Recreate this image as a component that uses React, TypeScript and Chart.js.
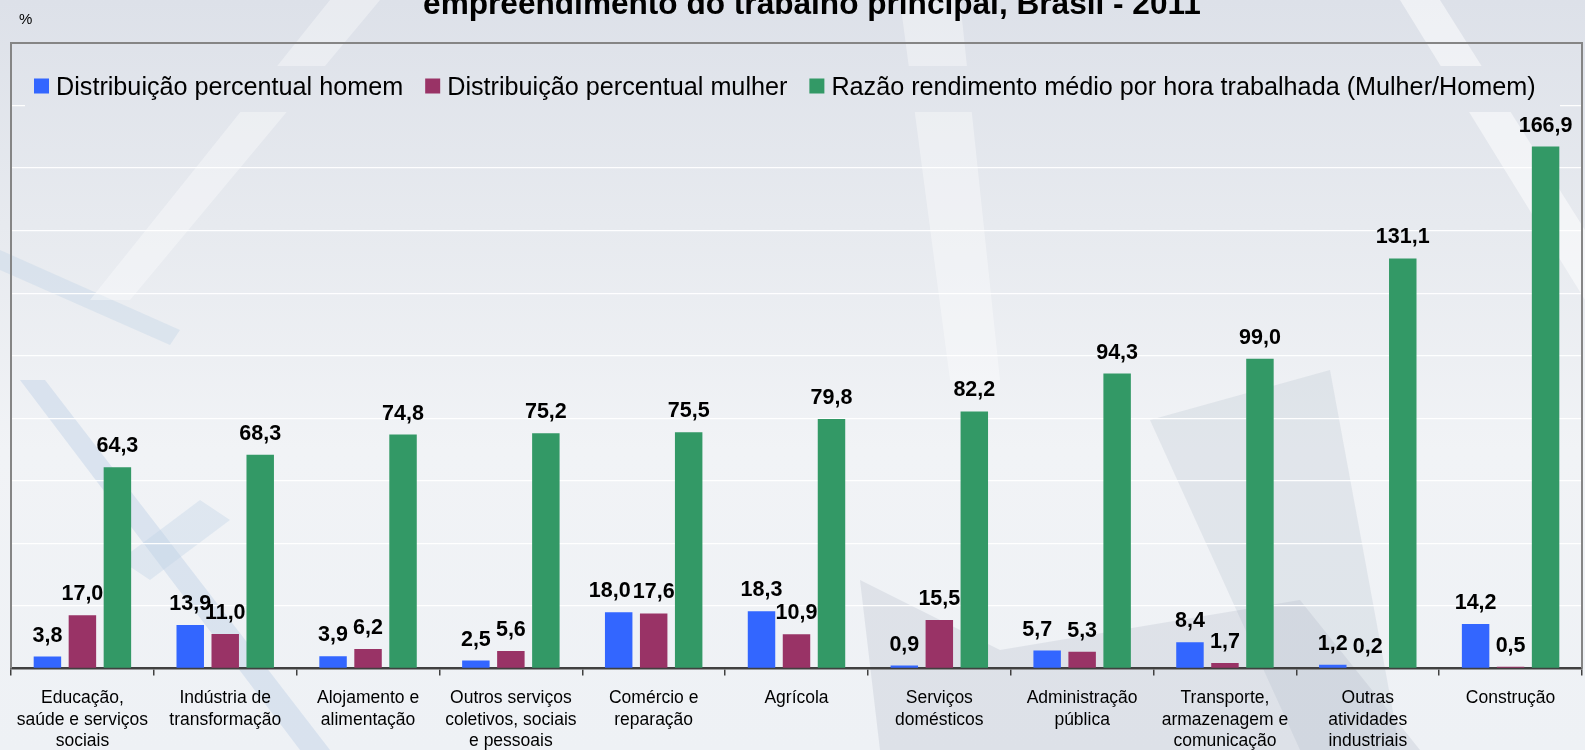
import React, { useEffect, useRef } from "react";
import { Chart, registerables } from "chart.js";

Chart.register(...registerables);

const categories: string[][] = [
  ["Educação,", "saúde e serviços", "sociais"],
  ["Indústria de", "transformação"],
  ["Alojamento e", "alimentação"],
  ["Outros serviços", "coletivos, sociais", "e pessoais"],
  ["Comércio e", "reparação"],
  ["Agrícola"],
  ["Serviços", "domésticos"],
  ["Administração", "pública"],
  ["Transporte,", "armazenagem e", "comunicação"],
  ["Outras", "atividades", "industriais"],
  ["Construção"],
];

const homem = [3.8, 13.9, 3.9, 2.5, 18.0, 18.3, 0.9, 5.7, 8.4, 1.2, 14.2];
const mulher = [17.0, 11.0, 6.2, 5.6, 17.6, 10.9, 15.5, 5.3, 1.7, 0.2, 0.5];
const razao = [64.3, 68.3, 74.8, 75.2, 75.5, 79.8, 82.2, 94.3, 99.0, 131.1, 166.9];

const seriesNames = [
  "Distribuição percentual homem",
  "Distribuição percentual mulher",
  "Razão rendimento médio por hora trabalhada (Mulher/Homem)",
];
const seriesColors = ["#3366FF", "#993366", "#339966"];

const titleText = "empreendimento do trabalho principal, Brasil - 2011";
const unitText = "%";

const FONT = "'Liberation Sans', Arial, sans-serif";

// manual nudges of a few value labels (dataset index -> category index -> px)
const labelNudge: Record<number, Record<number, number>> = { 0: { 4: -9, 7: -10 } };

function makeBg(ctx: CanvasRenderingContext2D, h: number) {
  const g = ctx.createLinearGradient(0, 0, 0, h);
  g.addColorStop(0, "#dde1e9");
  g.addColorStop(0.3, "#e7eaef");
  g.addColorStop(0.6, "#f1f3f6");
  g.addColorStop(1, "#eef1f5");
  return g;
}

const bgPlugin = {
  id: "bgPlugin",
  beforeDraw(chart: any) {
    const { ctx, width, height } = chart;
    ctx.save();
    ctx.fillStyle = makeBg(ctx, height);
    ctx.fillRect(0, 0, width, height);
    const poly = (pts: number[][], color: string) => {
      ctx.beginPath();
      ctx.moveTo(pts[0][0], pts[0][1]);
      for (let i = 1; i < pts.length; i++) ctx.lineTo(pts[i][0], pts[i][1]);
      ctx.closePath();
      ctx.fillStyle = color;
      ctx.fill();
    };
    poly([[20, 380], [45, 380], [330, 750], [300, 750]], "rgba(190,208,230,0.45)");
    poly([[120, 560], [200, 500], [230, 520], [150, 580]], "rgba(190,208,230,0.35)");
    poly([[0, 250], [180, 330], [170, 345], [0, 270]], "rgba(190,208,230,0.35)");
    poly([[860, 580], [1000, 650], [1300, 600], [1420, 750], [880, 750]], "rgba(170,180,195,0.25)");
    poly([[1150, 420], [1330, 370], [1400, 750], [1300, 750]], "rgba(170,180,195,0.22)");
    poly([[1400, 0], [1440, 0], [1585, 230], [1585, 300]], "rgba(255,255,255,0.5)");
    poly([[330, 0], [380, 0], [130, 300], [90, 300]], "rgba(255,255,255,0.35)");
    poly([[900, 0], [960, 0], [1000, 380], [950, 380]], "rgba(255,255,255,0.35)");
    ctx.restore();
  },
};

const overlayPlugin = {
  id: "overlayPlugin",
  beforeDatasetsDraw(chart: any) {
    const { ctx, height } = chart;
    ctx.save();
    ctx.fillStyle = makeBg(ctx, height);
    ctx.fillRect(25, 66, 1535, 46);
    ctx.font = `25.2px ${FONT}`;
    ctx.textBaseline = "alphabetic";
    let x = 34;
    chart.data.datasets.forEach((ds: any) => {
      ctx.fillStyle = ds.backgroundColor;
      ctx.fillRect(x, 78.5, 15, 15);
      ctx.fillStyle = "#000";
      ctx.fillText(ds.label, x + 22, 95);
      x += 22 + ctx.measureText(ds.label).width + 22;
    });
    ctx.restore();
  },
  afterDatasetsDraw(chart: any) {
    const { ctx } = chart;
    ctx.save();
    ctx.font = `bold 21.5px ${FONT}`;
    ctx.fillStyle = "#000";
    ctx.textAlign = "center";
    ctx.textBaseline = "alphabetic";
    chart.data.datasets.forEach((ds: any, di: number) => {
      const meta = chart.getDatasetMeta(di);
      meta.data.forEach((bar: any, i: number) => {
        const v = ds.data[i] as number;
        const dx = (labelNudge[di] && labelNudge[di][i]) || 0;
        ctx.fillText(v.toFixed(1).replace(".", ","), bar.x + dx, bar.y - 15);
      });
    });
    ctx.restore();
  },
  afterDraw(chart: any) {
    const { ctx, chartArea } = chart;
    ctx.save();
    ctx.strokeStyle = "#858585";
    ctx.lineWidth = 2;
    ctx.beginPath();
    ctx.moveTo(chartArea.left, chartArea.bottom);
    ctx.lineTo(chartArea.left, chartArea.top);
    ctx.lineTo(chartArea.right, chartArea.top);
    ctx.lineTo(chartArea.right, chartArea.bottom);
    ctx.stroke();
    ctx.fillStyle = "#000";
    ctx.textAlign = "center";
    ctx.textBaseline = "alphabetic";
    ctx.font = `bold 31.6px ${FONT}`;
    ctx.fillText(titleText, 812, 14);
    ctx.textAlign = "left";
    ctx.font = `15px ${FONT}`;
    ctx.fillText(unitText, 19, 24);
    ctx.restore();
  },
};

export default function App() {
  const ref = useRef<HTMLCanvasElement | null>(null);
  useEffect(() => {
    document.body.style.margin = "0";
    const canvas = ref.current!;
    const chart = new Chart(canvas, {
      type: "bar",
      data: {
        labels: categories,
        datasets: [
          { label: seriesNames[0], data: homem, backgroundColor: seriesColors[0] },
          { label: seriesNames[1], data: mulher, backgroundColor: seriesColors[1] },
          { label: seriesNames[2], data: razao, backgroundColor: seriesColors[2] },
        ],
      },
      options: {
        animation: false,
        responsive: false,
        maintainAspectRatio: false,
        layout: { padding: { left: 11, right: 3, top: 43, bottom: -14 } },
        datasets: {
          bar: { categoryPercentage: 0.735, barPercentage: 0.785 },
        },
        plugins: {
          legend: { display: false },
          title: { display: false },
          tooltip: { enabled: false },
        },
        scales: {
          x: {
            grid: {
              display: true,
              drawOnChartArea: false,
              drawTicks: true,
              tickLength: 7,
              color: "#404040",
              lineWidth: 1.5,
            },
            border: { display: true, color: "#404040", width: 2.5 },
            ticks: {
              color: "#000",
              font: { family: FONT, size: 17.5, lineHeight: 1.23 },
              padding: 12,
              maxRotation: 0,
              autoSkip: false,
            },
          },
          y: {
            min: 0,
            max: 200,
            ticks: { display: false, stepSize: 20 },
            grid: {
              color: "rgba(255,255,255,0.95)",
              lineWidth: 1.2,
              drawTicks: false,
            },
            border: { display: false },
          },
        },
      },
      plugins: [bgPlugin, overlayPlugin],
    });
    return () => chart.destroy();
  }, []);
  return (
    <div style={{ position: "fixed", left: 0, top: 0, width: 1585, height: 750, overflow: "hidden" }}>
      <canvas ref={ref} width={1585} height={750} style={{ display: "block" }} />
    </div>
  );
}
